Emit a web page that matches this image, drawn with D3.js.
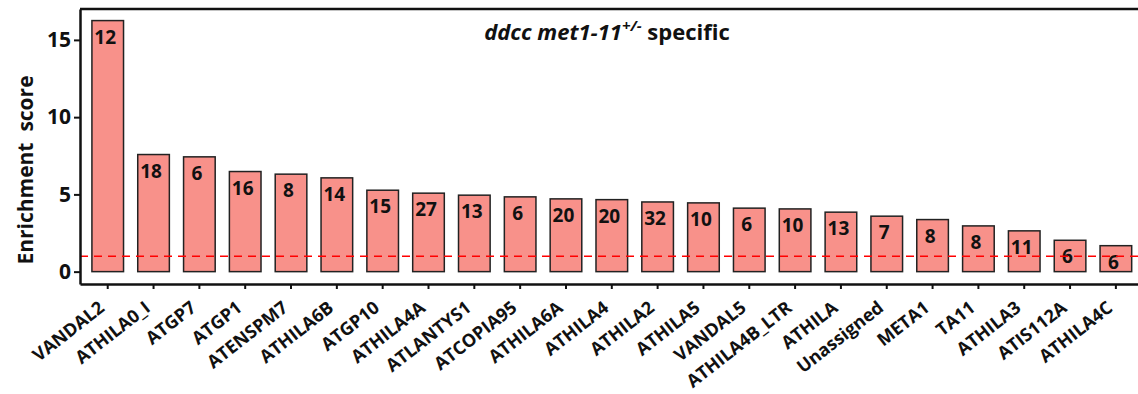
<!DOCTYPE html>
<html>
<head>
<meta charset="utf-8">
<script src="https://cdn.jsdelivr.net/npm/d3@7"></script>
<style>
  html, body { margin: 0; padding: 0; background: #fff; }
  svg { display: block; font-family: "Open Sans", Lato, sans-serif; }
</style>
</head>
<body>
<svg id="chart" width="1138" height="394"></svg>
<script>
// Transposable-element families, sorted by enrichment
const families = ["VANDAL2", "ATHILA0_I", "ATGP7", "ATGP1", "ATENSPM7", "ATHILA6B", "ATGP10",
  "ATHILA4A", "ATLANTYS1", "ATCOPIA95", "ATHILA6A", "ATHILA4", "ATHILA2", "ATHILA5", "VANDAL5",
  "ATHILA4B_LTR", "ATHILA", "Unassigned", "META1", "TA11", "ATHILA3", "ATIS112A", "ATHILA4C"];
const enrichment = [16.25, 7.58, 7.43, 6.48, 6.31, 6.07, 5.27, 5.08, 4.95, 4.84, 4.71, 4.66,
  4.51, 4.45, 4.11, 4.06, 3.85, 3.59, 3.37, 2.96, 2.64, 2.03, 1.68];
const counts = [12, 18, 6, 16, 8, 14, 15, 27, 13, 6, 20, 20, 32, 10, 6, 10, 13, 7, 8, 8, 11, 6, 6];
const yTicks = [0, 5, 10, 15];
const baseline = 1;

const svg = d3.select("#chart");
const plotLeft = 80, plotRight = 1143.6, plotTop = 9, plotBottom = 284;
const font = "'Open Sans', Lato, sans-serif";

const x = d3.scaleBand().domain(families).range([plotLeft, plotRight])
  .paddingInner(0.31).paddingOuter(0.26);
const y = d3.scaleLinear().domain([-0.8, 17]).range([plotBottom, plotTop]);

// bars
svg.append("g").selectAll("rect").data(families).join("rect")
  .attr("x", d => x(d))
  .attr("width", x.bandwidth())
  .attr("y", (d, i) => y(enrichment[i]))
  .attr("height", (d, i) => y(0) - y(enrichment[i]))
  .attr("fill", "#f8918a")
  .attr("stroke", "#222")
  .attr("stroke-width", 1.5);

// count labels inside the bars
svg.append("g").selectAll("text").data(families).join("text")
  .attr("x", d => x(d) + x.bandwidth() / 2 - 2.5)
  .attr("y", (d, i) => y(enrichment[i]) + 23)
  .attr("text-anchor", "middle")
  .attr("font-family", font)
  .attr("font-weight", 700)
  .attr("font-size", 19)
  .attr("fill", "#111")
  .text((d, i) => counts[i]);

// reference line at enrichment = 1
svg.append("line")
  .attr("x1", plotLeft).attr("x2", plotRight)
  .attr("y1", y(baseline)).attr("y2", y(baseline))
  .attr("stroke", "#ff0000")
  .attr("stroke-width", 1.5)
  .attr("stroke-dasharray", "8,6");

// frame top edge
svg.append("line")
  .attr("x1", plotLeft).attr("x2", plotRight)
  .attr("y1", plotTop).attr("y2", plotTop)
  .attr("stroke", "#111").attr("stroke-width", 2.5);

// y axis
const yAxis = svg.append("g")
  .attr("transform", `translate(${plotLeft},0)`)
  .call(d3.axisLeft(y).tickValues(yTicks).tickSize(6).tickPadding(3).tickSizeOuter(0));
yAxis.select(".domain").attr("stroke", "#111").attr("stroke-width", 2.5);
yAxis.selectAll(".tick line").attr("stroke", "#111").attr("stroke-width", 2);
yAxis.selectAll(".tick text")
  .attr("font-family", font)
  .attr("font-size", 21).attr("font-weight", 700).attr("fill", "#111");

// x axis
const xAxis = svg.append("g")
  .attr("transform", `translate(0,${plotBottom})`)
  .call(d3.axisBottom(x).tickSize(5).tickSizeOuter(0));
xAxis.select(".domain").attr("stroke", "#111").attr("stroke-width", 2.5);
xAxis.selectAll(".tick line").attr("stroke", "#111").attr("stroke-width", 2);
xAxis.selectAll(".tick text")
  .attr("font-family", font)
  .attr("font-size", 18).attr("font-weight", 700).attr("fill", "#111")
  .attr("text-anchor", "end")
  .attr("x", 0).attr("y", 0).attr("dy", 0)
  .attr("transform", "translate(-2,26) rotate(-38)");

// y axis title
svg.append("text")
  .attr("transform", "translate(33,170) rotate(-90)")
  .attr("text-anchor", "middle")
  .attr("font-family", font)
  .attr("font-size", 21)
  .attr("font-weight", 700)
  .attr("fill", "#111")
  .style("white-space", "pre")
  .text("Enrichment  score");

// panel title
const title = svg.append("text")
  .attr("x", 607).attr("y", 40)
  .attr("text-anchor", "middle")
  .attr("font-family", font)
  .attr("font-size", 22)
  .attr("font-weight", 700)
  .attr("fill", "#111");
title.append("tspan").attr("font-style", "italic").text("ddcc met1-11");
title.append("tspan").attr("font-style", "italic").attr("font-size", 15)
  .attr("dy", -9).text("+/-");
title.append("tspan").attr("dy", 9).text(" specific");
</script>
</body>
</html>
